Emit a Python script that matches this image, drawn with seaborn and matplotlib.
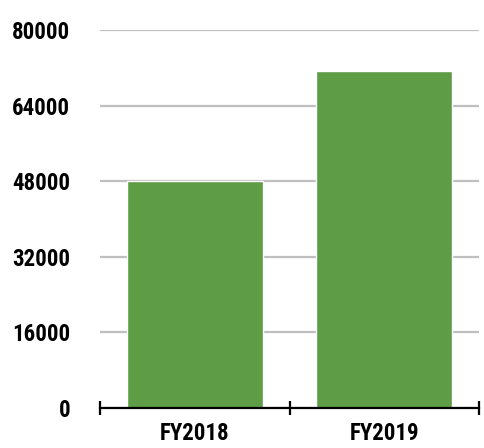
import pandas as pd
import matplotlib
matplotlib.use("Agg")
import matplotlib.pyplot as plt
import seaborn as sns
from matplotlib.ticker import FixedLocator

years = ["FY2018", "FY2019"]
values = [48100, 71300]
yticks = [0, 16000, 32000, 48000, 64000, 80000]

sns.set_theme(style="white")
plt.rcParams['font.family'] = ['Roboto Condensed', 'DejaVu Sans']

df = pd.DataFrame({"year": years, "value": values})

fig = plt.figure(figsize=(4.84, 4.48), dpi=100)
ax = fig.add_axes([100 / 484, 40 / 448, 379 / 484, 378 / 448])
sns.barplot(data=df, x="year", y="value", color="#5e9c46", saturation=1,
            width=0.72, ax=ax, zorder=2)

ax.set_ylim(0, 80000)
ax.set_xlim(-0.5, 1.5)
ax.set_yticks(yticks)
ax.set_yticklabels([str(t) for t in yticks])
ax.yaxis.grid(True, color="#bfbfbf", linewidth=1.6, zorder=0)
ax.set_axisbelow(True)
ax.set_xlabel("")
ax.set_ylabel("")

for s in ["top", "right", "left"]:
    ax.spines[s].set_visible(False)
ax.spines["bottom"].set_color("black")
ax.spines["bottom"].set_linewidth(1.6)
ax.spines["bottom"].set_zorder(3)

ax.tick_params(axis="y", length=0, pad=21.5, labelsize=16.5, labelcolor="black")
ax.tick_params(axis="x", which="major", length=0, pad=10, labelsize=16.5,
               labelcolor="black")
ax.xaxis.set_minor_locator(FixedLocator([-0.5, 0.5, 1.5]))
ax.tick_params(axis="x", which="minor", bottom=True, length=10, width=1.6,
               direction="inout", color="black")
for lab in ax.get_xticklabels() + ax.get_yticklabels():
    lab.set_fontweight("bold")

plt.savefig("out.png", dpi=100)
